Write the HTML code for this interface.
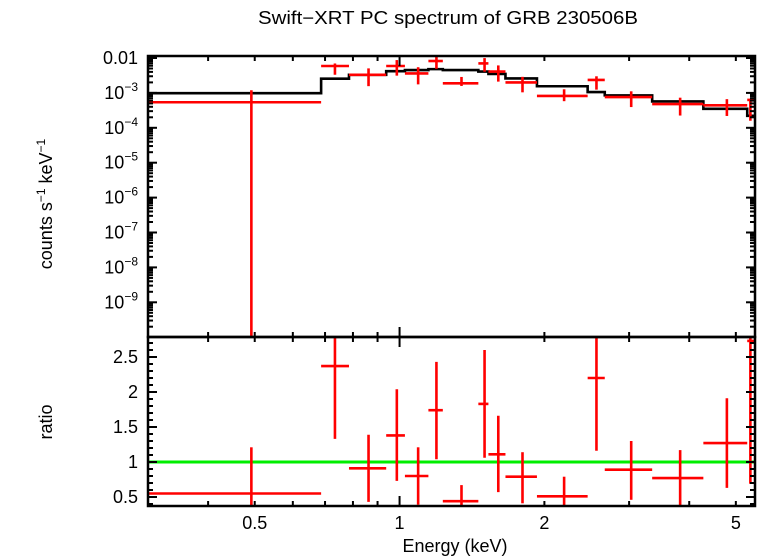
<!DOCTYPE html>
<html><head><meta charset="utf-8"><style>
body{margin:0;background:#fff}
svg{display:block;font-family:"Liberation Sans",sans-serif}
</style></head><body>
<svg id="c" width="758" height="556">
<text x="448" y="24" font-size="18" text-anchor="middle" textLength="380" lengthAdjust="spacingAndGlyphs">Swift−XRT PC spectrum of GRB 230506B</text>
<text transform="translate(52,204) rotate(-90)" font-size="18" text-anchor="middle">counts s<tspan dy="-7" font-size="12">−1</tspan><tspan dy="7"> keV</tspan><tspan dy="-7" font-size="12">−1</tspan></text>
<text transform="translate(52,422) rotate(-90)" font-size="18" text-anchor="middle">ratio</text>
<text x="455" y="552" font-size="18" text-anchor="middle">Energy (keV)</text>
<g id="g"></g>
</svg>
<script>
const edges=[0.3,0.687,0.785,0.938,1.026,1.148,1.23,1.458,1.53,1.66,1.93,2.46,2.67,3.35,4.28,5.28,5.6];
const centers=[0.492,0.734,0.862,0.987,1.093,1.193,1.345,1.502,1.604,1.801,2.198,2.566,3.03,3.83,4.79,5.36];
const counts=[5.4e-4,5.9e-3,3.3e-3,5.9e-3,3.6e-3,8.2e-3,1.88e-3,7.0e-3,4.1e-3,2.0e-3,8.2e-4,2.35e-3,7.6e-4,4.8e-4,4.4e-4,6.3e-4];
const model=[9.8e-4,2.55e-3,3.3e-3,4.2e-3,4.5e-3,4.8e-3,4.5e-3,4.1e-3,3.5e-3,2.6e-3,1.55e-3,1.06e-3,8.5e-4,5.7e-4,3.5e-4,2.2e-4];
const ratio=[0.55,2.37,0.91,1.38,0.8,1.74,0.44,1.83,1.11,0.79,0.51,2.2,0.89,0.77,1.27,2.73];
const ratioLo=[0,1.33,0.43,0.73,0.39,1.04,0.37,1.06,0.57,0.41,0.36,1.16,0.46,0.36,0.63,0.69];
const ratioHi=[1.21,2.8,1.39,2.04,1.21,2.43,0.67,2.6,1.66,1.14,0.79,2.8,1.3,1.17,1.91,2.9];
const xTickVals=[0.5,1,2,5];
const yTopTicks=[-2,-3,-4,-5,-6,-7,-8,-9];
const yBotTicks=[0.5,1,1.5,2,2.5];

const L=148,R=755,T1=56,B1=337,B2=506;
const xmin=0.3,xmax=5.48;
const X=e=>L+(Math.log10(e)-Math.log10(xmin))/(Math.log10(xmax)-Math.log10(xmin))*(R-L);
const YT=v=>v<=0?B1:Math.max(T1,Math.min(B1,58-(Math.log10(v)+2)*34.9));
const YB=r=>Math.max(B1,Math.min(B2,462-(r-1)*70));
const cx=e=>Math.max(L,Math.min(R,X(e)));
const g=document.getElementById('g');
const NS='http://www.w3.org/2000/svg';
function el(t,a){const e=document.createElementNS(NS,t);for(const k in a)e.setAttribute(k,a[k]);g.appendChild(e);return e;}
function ln(x1,y1,x2,y2,c,w){return el('line',{x1,y1,x2,y2,stroke:c,'stroke-width':w});}

let d='';
model.forEach((m,i)=>{const y=YT(m);d+=(i?'L':'M')+cx(edges[i])+','+y+'L'+cx(edges[i+1])+','+y;});
const mp=el('path',{d,fill:'none',stroke:'#000','stroke-width':2.6});



const gl=ln(L,YB(1),R,YB(1),'#00ee00',3);



counts.forEach((c,i)=>{
  const x=cx(centers[i]),y=YT(c);
  const lo=c*ratioLo[i]/ratio[i],hi=c*ratioHi[i]/ratio[i];
  const h=ln(cx(edges[i]),y,cx(edges[i+1]),y,'#f00',2.6);
  
  
  const v=ln(x,YT(hi),x,YT(lo),'#f00',2.6);
  
  
  const ry=YB(ratio[i]);
  const h2=ln(cx(edges[i]),ry,cx(edges[i+1]),ry,'#f00',2.6);
  
  
  const v2=ln(x,YB(ratioHi[i]),x,YB(ratioLo[i]),'#f00',2.6);
  
  
});

[[T1,B1],[B1,B2]].forEach(([t,b])=>{
  const r=el('rect',{x:L,y:t,width:R-L,height:b-t,fill:'none',stroke:'#000','stroke-width':2.5});
  
  
});
const minors=[0.3,0.4,0.5,0.6,0.7,0.8,0.9,2,3,4,5];
[[T1,B1],[B1,B2]].forEach(([t,b])=>{
  minors.forEach(v=>{const x=X(v);ln(x,t,x,t+5,'#000',2);ln(x,b,x,b-5,'#000',2);});
  const x1=X(1);ln(x1,t,x1,t+10,'#000',2);ln(x1,b,x1,b-10,'#000',2);
});
xTickVals.forEach(v=>{
  const t=el('text',{x:X(v),y:529,'font-size':18,'text-anchor':'middle'});
  t.textContent=String(v);
  
  
});
for(let p=-10;p<=-2;p++){
  for(let k=1;k<10;k++){const v=k*Math.pow(10,p);const y=YT(v);if(y<=T1+0.5||y>=B1)continue;
    const w=k==1?9:5;ln(L,y,L+w,y,'#000',2);ln(R,y,R-w,y,'#000',2);}
}
yTopTicks.forEach(p=>{
  const t=el('text',{x:138,y:YT(Math.pow(10,p))+6,'font-size':18,'text-anchor':'end'});
  if(p==-2)t.textContent='0.01';
  else{t.textContent='10';const s=document.createElementNS(NS,'tspan');s.setAttribute('dy','-8');s.setAttribute('font-size','12');s.textContent='−'+(-p);t.appendChild(s);}
  
  
});
for(let r=0.4;r<2.8;r+=0.1){const y=YB(r);if(y<=B1+1||y>=B2-1)continue;
  const maj=Math.abs(r*2-Math.round(r*2))<0.01;const w=maj?9:5;ln(L,y,L+w,y,'#000',2);ln(R,y,R-w,y,'#000',2);}
yBotTicks.forEach(v=>{
  const t=el('text',{x:138,y:YB(v)+6,'font-size':18,'text-anchor':'end'});
  t.textContent=String(v);
  
  
});
</script>
</body></html>
